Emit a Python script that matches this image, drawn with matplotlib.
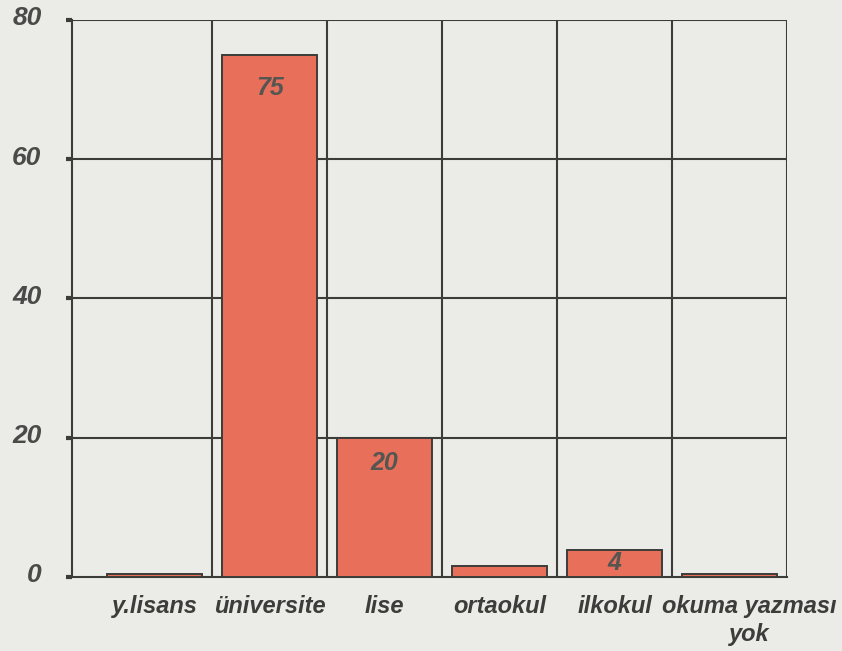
import matplotlib.pyplot as plt
from matplotlib.transforms import ScaledTranslation

plt.rcParams['font.family'] = ['Liberation Sans', 'DejaVu Sans']

categories = ['y.lisans', 'üniversite', 'lise', 'ortaokul', 'ilkokul', 'okuma yazması\nyok']
values = [0.5, 75, 20, 1.6, 3.9, 0.4]
labels = ['', '75', '20', '', '4', '']
label_y = [0, 70.3, 16.3, 0, 2.0, 0]

bg = '#ebebe8'
ink = '#3c3c3a'

fig = plt.figure(figsize=(8.42, 6.51), dpi=100)
fig.patch.set_facecolor(bg)
ax = fig.add_axes([0.0855, 0.1137, 0.8492, 0.8556])
ax.set_facecolor(bg)

x = list(range(len(categories)))
bars = ax.bar(x, values, width=0.83, color='#e8705a', edgecolor=ink, linewidth=1.4, zorder=3)

for b, lab, ly in zip(bars, labels, label_y):
    if lab:
        ax.text(b.get_x() + b.get_width() / 2, ly, lab,
                ha='center', va='center', fontsize=18, fontweight='bold',
                fontstyle='italic', color='#555552', zorder=4)

ax.set_xlim(-0.72, 5.5)
ax.set_ylim(0, 80)

# grid
for yv in [20, 40, 60, 80]:
    ax.axhline(yv, color=ink, linewidth=1.5, zorder=1)
for xv in [0.5, 1.5, 2.5, 3.5, 4.5, 5.5]:
    ax.axvline(xv, color=ink, linewidth=1.5, zorder=1)

for s in ['top', 'right']:
    ax.spines[s].set_visible(False)
ax.spines['left'].set_color(ink)
ax.spines['left'].set_linewidth(1.5)
ax.spines['bottom'].set_color(ink)
ax.spines['bottom'].set_linewidth(1.5)

ax.set_yticks([0, 20, 40, 60, 80])
ax.set_yticklabels(['0', '20', '40', '60', '80'])
ax.tick_params(axis='y', length=4, width=3, color=ink, pad=18)
for t in ax.get_yticklabels():
    t.set_fontsize(19)
    t.set_fontweight('bold')
    t.set_fontstyle('italic')
    t.set_color('#4a4a48')
    t.set_transform(t.get_transform() + ScaledTranslation(0, 4 / 100, fig.dpi_scale_trans))

ax.set_xticks(x)
ax.set_xticklabels(categories)
ax.tick_params(axis='x', length=0, pad=13)
xl = ax.get_xticklabels()
for t in xl:
    t.set_fontsize(17)
    t.set_fontweight('bold')
    t.set_fontstyle('italic')
    t.set_color(ink)
    t.set_linespacing(1.3)
# last label sits a little to the right in the original
xl[-1].set_transform(xl[-1].get_transform() + ScaledTranslation(20 / 100, 0, fig.dpi_scale_trans))

plt.savefig('out.png', dpi=100, facecolor=bg)
